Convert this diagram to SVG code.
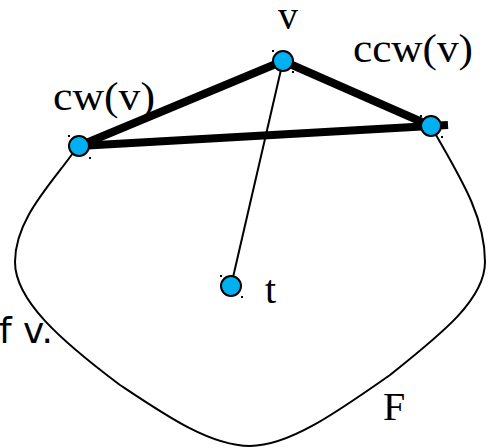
<svg xmlns="http://www.w3.org/2000/svg" width="489" height="448" viewBox="0 0 489 448">
<style>
.node{fill:#00b0f0;stroke:#000;stroke-width:2}
.thick{stroke:#000;stroke-width:8;fill:none}
.thin{stroke:#000;stroke-width:2;fill:none}
.serif{font-family:"Liberation Serif","Times New Roman",serif;font-size:40px;fill:#000}
.sans{font-family:"DejaVu Sans","Liberation Sans",sans-serif;font-size:36px;fill:#000}
.dot{fill:#000}
</style>
<rect width="489" height="448" fill="#fff"/>
<g id="face">
<path class="thin" d="M73,153 C50,185 15,220 15,262 C15,300 60,340 120,385 C165,415 210,446 250,446 C290,446 340,410 390,375 C440,335 485,300 485,262 C485,220 465,185 436,135"/>
</g>
<g id="connectors">
<line class="thick" x1="79" y1="146" x2="283" y2="61"/>
<line class="thick" x1="283" y1="61" x2="431" y2="126"/>
<line class="thick" x1="79" y1="146" x2="448" y2="125"/>
<line class="thin" x1="283" y1="61" x2="231" y2="286"/>
</g>
<g id="node-v">
<circle class="node" cx="283" cy="61" r="10"/>
<rect class="dot" x="272" y="50" width="2" height="2"/><rect class="dot" x="292" y="71" width="2" height="2"/>
<text class="serif" x="288" y="29" text-anchor="middle">v</text>
</g>
<g id="node-cw">
<circle class="node" cx="79" cy="146" r="10"/>
<rect class="dot" x="68" y="135" width="2" height="2"/><rect class="dot" x="89" y="157" width="2" height="2"/>
<text class="serif" x="53" y="110" textLength="102" lengthAdjust="spacingAndGlyphs">cw(v)</text>
</g>
<g id="node-ccw">
<circle class="node" cx="431" cy="126" r="10"/>
<rect class="dot" x="420" y="115" width="2" height="2"/><rect class="dot" x="441" y="136" width="2" height="2"/>
<text class="serif" x="353" y="62" textLength="120" lengthAdjust="spacingAndGlyphs">ccw(v)</text>
</g>
<g id="node-t">
<circle class="node" cx="231" cy="286" r="10"/>
<rect class="dot" x="220" y="275" width="2" height="2"/><rect class="dot" x="241" y="296" width="2" height="2"/>
<text class="serif" x="265" y="303">t</text>
</g>
<text class="serif" x="383" y="420">F</text>
<text class="sans" x="53" y="343" text-anchor="end">f v.</text>
</svg>
